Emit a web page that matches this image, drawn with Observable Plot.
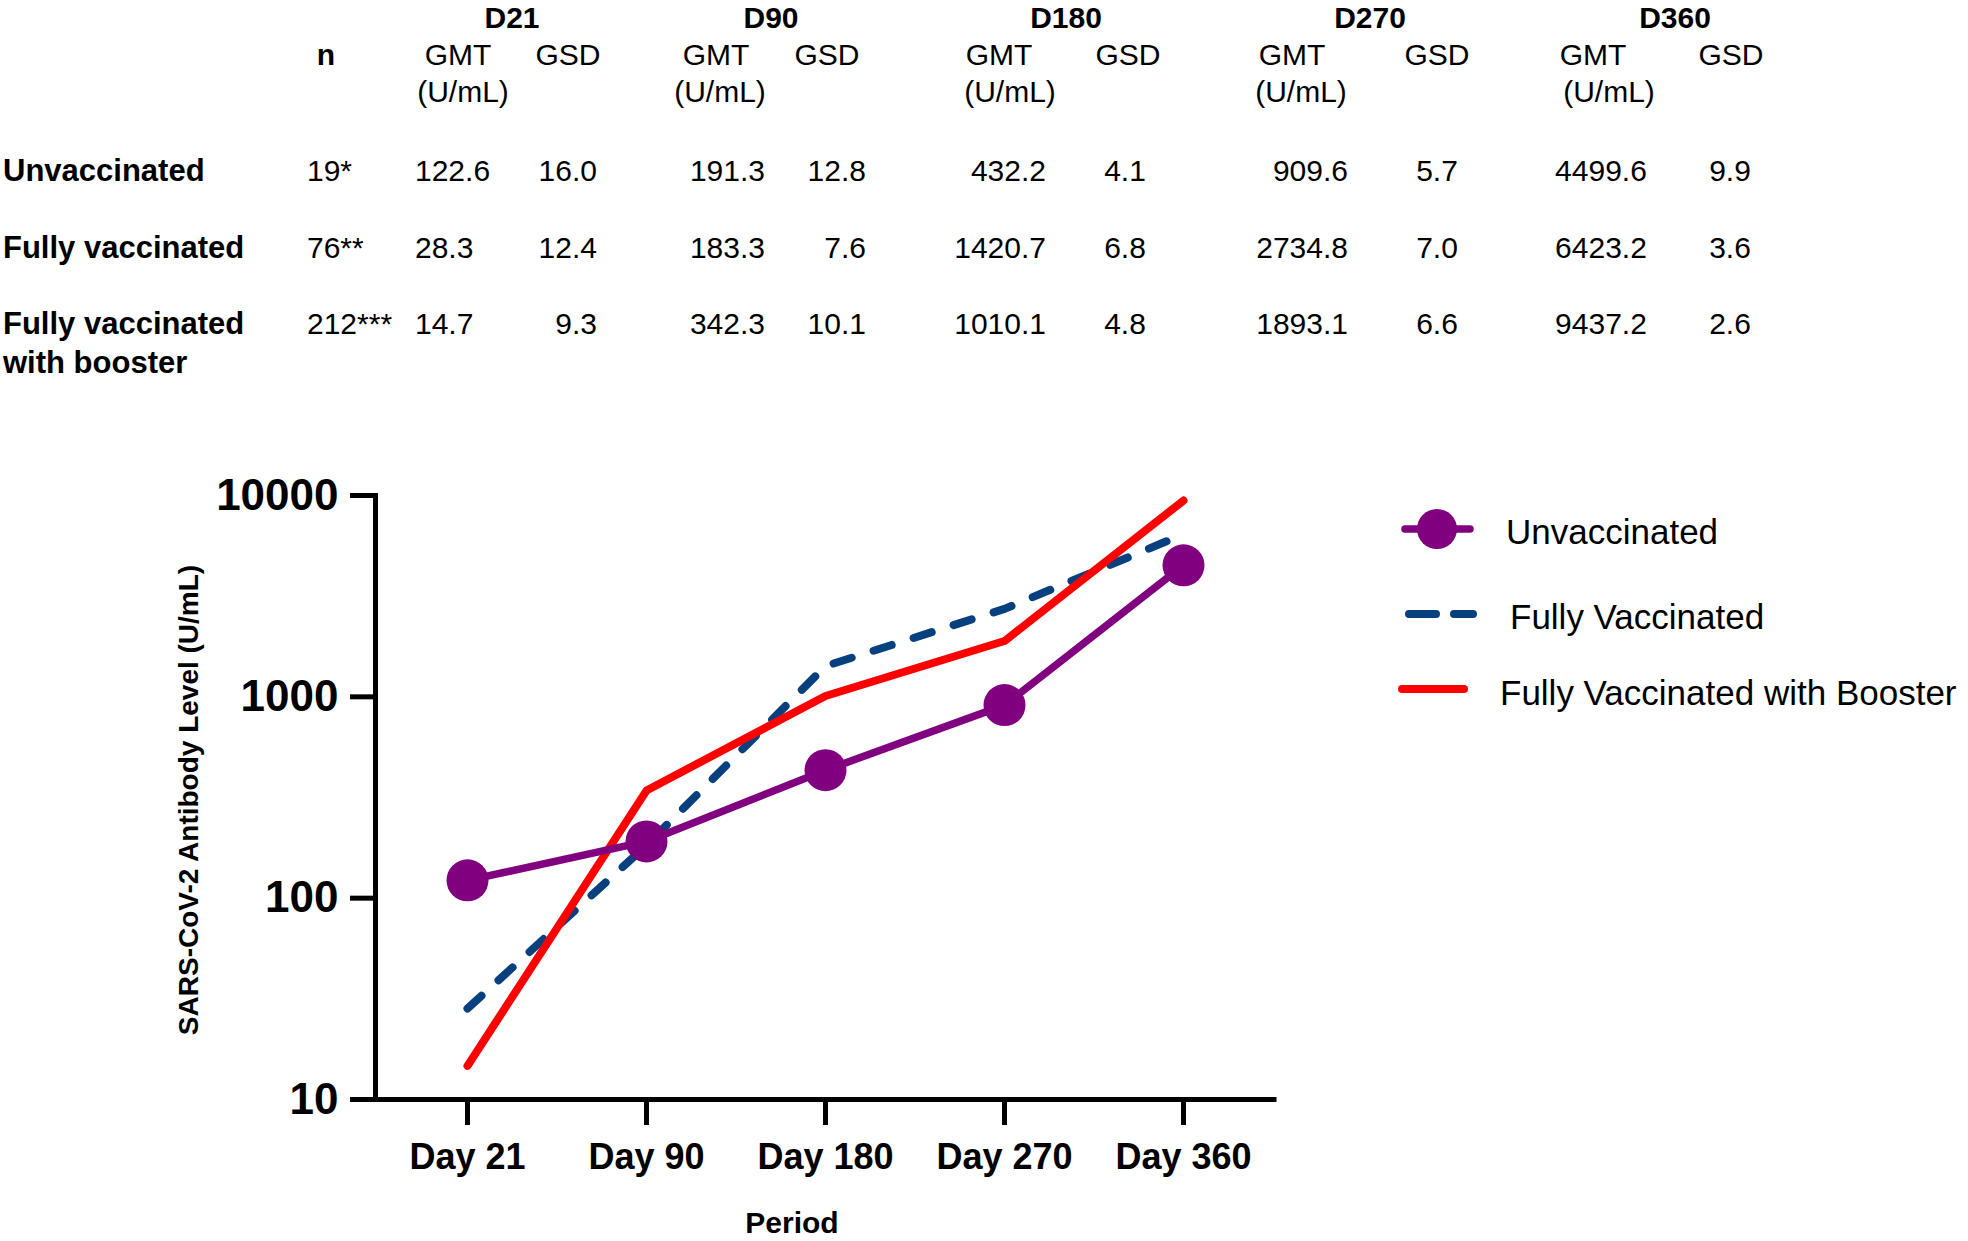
<!DOCTYPE html>
<html>
<head>
<meta charset="utf-8">
<script src="https://cdn.jsdelivr.net/npm/d3@7"></script>
<script src="https://cdn.jsdelivr.net/npm/@observablehq/plot@0.6"></script>
<style>
  html, body { margin: 0; padding: 0; background: #fff; overflow: hidden; }
  body { width: 1968px; height: 1241px; position: relative; font-family: "Liberation Sans", Arial, sans-serif; }
  #chart { position: absolute; left: 0; top: 440px; }
  #overlay { position: absolute; left: 0; top: 0; pointer-events: none; }
  #overlay text { font-family: "Liberation Sans", Arial, sans-serif; fill: #000; }
</style>
</head>
<body>
<div id="chart"></div>
<svg id="overlay" width="1968" height="1241"></svg>
<script>
// ---- data ----
const periods = ["Day 21", "Day 90", "Day 180", "Day 270", "Day 360"];
const dayHeaders = ["D21", "D90", "D180", "D270", "D360"];
const groups = ["Unvaccinated", "Fully vaccinated", "Fully vaccinated with booster"];
const nValues = ["19*", "76**", "212***"];
const legendLabels = ["Unvaccinated", "Fully Vaccinated", "Fully Vaccinated with Booster"];

const unvaccinatedGMT = [122.6, 191.3, 432.2, 909.6, 4499.6];
const fullyVaccinatedGMT = [28.3, 183.3, 1420.7, 2734.8, 6423.2];
const boosterGMT = [14.7, 342.3, 1010.1, 1893.1, 9437.2];

const unvaccinatedGSD = [16.0, 12.8, 4.1, 5.7, 9.9];
const fullyVaccinatedGSD = [12.4, 7.6, 6.8, 7.0, 3.6];
const boosterGSD = [9.3, 10.1, 4.8, 6.6, 2.6];

const yTicks = [10, 100, 1000, 10000];

const PURPLE = "#800080";
const BLUE = "#06407f";
const RED = "#ff0000";

// ---- chart ----
const toRows = (vals, series) => periods.map((p, i) => ({period: p, value: vals[i], series}));
const unvRows = toRows(unvaccinatedGMT, legendLabels[0]);
const fullRows = toRows(fullyVaccinatedGMT, legendLabels[1]);
const boostRows = toRows(boosterGMT, legendLabels[2]);

const chart = Plot.plot({
  width: 1968,
  height: 801,
  marginLeft: 375,
  marginRight: 694,
  marginTop: 55,
  marginBottom: 142,
  style: {fontFamily: "'Liberation Sans', Arial, sans-serif", color: "#000", background: "transparent", overflow: "visible"},
  x: {type: "point", domain: periods, padding: 0.5},
  y: {type: "log", domain: [10, 10000]},
  marks: [
    Plot.axisY({ticks: yTicks, tickFormat: d => String(d), tickSize: 25, tickPadding: 12, fontSize: 44, fontWeight: "bold", strokeWidth: 5, label: null}),
    Plot.axisX({tickSize: 26, tickPadding: 18, fontSize: 36, fontWeight: "bold", strokeWidth: 5, label: null}),
    Plot.ruleY([10], {strokeWidth: 5, strokeLinecap: "square"}),
    Plot.frame({anchor: "left", strokeWidth: 5, strokeLinecap: "square"}),
    Plot.line(fullRows, {x: "period", y: "value", stroke: BLUE, strokeWidth: 8, strokeDasharray: "19,23", strokeLinecap: "round", strokeLinejoin: "round"}),
    Plot.line(boostRows, {x: "period", y: "value", stroke: RED, strokeWidth: 8, strokeLinecap: "round", strokeLinejoin: "round"}),
    Plot.line(unvRows, {x: "period", y: "value", stroke: PURPLE, strokeWidth: 7.5, strokeLinecap: "round", strokeLinejoin: "round"}),
    Plot.dot(unvRows, {x: "period", y: "value", r: 21, fill: PURPLE, stroke: null})
  ]
});
document.getElementById("chart").append(chart);

// ---- table, legend, axis titles ----
const svg = d3.select("#overlay");
function txt(x, y, s, {size = 30, weight = "normal", anchor = "middle", dy = "0"} = {}) {
  return svg.append("text")
    .attr("x", x).attr("y", y).attr("dy", dy)
    .attr("text-anchor", anchor)
    .attr("font-size", size)
    .attr("font-weight", weight)
    .text(s);
}

// layout (baselines)
const headerBase = [28, 65, 102];
const rowBase = [181, 258, 334];
const secondLineGap = 39;

// row labels
groups.forEach((g, i) => {
  const parts = g.includes(" with ") ? [g.slice(0, g.indexOf(" with ")), g.slice(g.indexOf(" with ") + 1)] : [g];
  parts.forEach((p, j) => txt(3, rowBase[i] + j * secondLineGap, p, {size: 31, weight: "bold", anchor: "start"}));
});

// n column
txt(326, headerBase[1], "n", {size: 30, weight: "bold"});
nValues.forEach((v, i) => txt(307, rowBase[i], v, {size: 30, anchor: "start"}));

// per-day columns layout
const colLayout = [
  {d: 512, gmtH: 458, unitH: 463, gmtX: 415, gmtA: "start", gsdH: 568, gsdX: 597, gsdA: "end"},
  {d: 771, gmtH: 716, unitH: 720, gmtX: 765, gmtA: "end", gsdH: 827, gsdX: 866, gsdA: "end"},
  {d: 1066, gmtH: 999, unitH: 1010, gmtX: 1046, gmtA: "end", gsdH: 1128, gsdX: 1125, gsdA: "middle"},
  {d: 1370, gmtH: 1292, unitH: 1301, gmtX: 1348, gmtA: "end", gsdH: 1437, gsdX: 1437, gsdA: "middle"},
  {d: 1675, gmtH: 1593, unitH: 1609, gmtX: 1601, gmtA: "middle", gsdH: 1731, gsdX: 1730, gsdA: "middle"}
];
const gmtSeries = [unvaccinatedGMT, fullyVaccinatedGMT, boosterGMT];
const gsdSeries = [unvaccinatedGSD, fullyVaccinatedGSD, boosterGSD];
dayHeaders.forEach((h, c) => {
  const L = colLayout[c];
  txt(L.d, headerBase[0], h, {size: 30, weight: "bold"});
  txt(L.gmtH, headerBase[1], "GMT", {size: 30});
  txt(L.unitH, headerBase[2], "(U/mL)", {size: 30});
  txt(L.gsdH, headerBase[1], "GSD", {size: 30});
  gmtSeries.forEach((s, r) => txt(L.gmtX, rowBase[r], s[c].toFixed(1), {size: 30, anchor: L.gmtA}));
  gsdSeries.forEach((s, r) => txt(L.gsdX, rowBase[r], s[c].toFixed(1), {size: 30, anchor: L.gsdA}));
});

// axis titles
svg.append("text")
  .attr("transform", "translate(188,800) rotate(-90)")
  .attr("text-anchor", "middle").attr("dy", "0.355em")
  .attr("font-size", 28).attr("font-weight", "bold")
  .text("SARS-CoV-2 Antibody Level (U/mL)");
txt(792, 1233, "Period", {size: 30, weight: "bold"});

// legend
const legendRows = [
  {y: 529, base: 544, tx: 1506, color: PURPLE, width: 7.5, x1: 1405, x2: 1470, dash: null, dot: true},
  {y: 614, base: 629, tx: 1510, color: BLUE, width: 8, x1: 1409, x2: 1473, dash: "27,18", dot: false},
  {y: 689, base: 705, tx: 1500, color: RED, width: 8, x1: 1402, x2: 1464, dash: null, dot: false}
];
legendLabels.forEach((lab, i) => {
  const L = legendRows[i];
  const ln = svg.append("line")
    .attr("x1", L.x1).attr("x2", L.x2).attr("y1", L.y).attr("y2", L.y)
    .attr("stroke", L.color).attr("stroke-width", L.width).attr("stroke-linecap", "round");
  if (L.dash) ln.attr("stroke-dasharray", L.dash);
  if (L.dot) svg.append("circle").attr("cx", 1437).attr("cy", L.y).attr("r", 20).attr("fill", L.color);
  txt(L.tx, L.base, lab, {size: 35, anchor: "start"});
});
</script>
</body>
</html>
